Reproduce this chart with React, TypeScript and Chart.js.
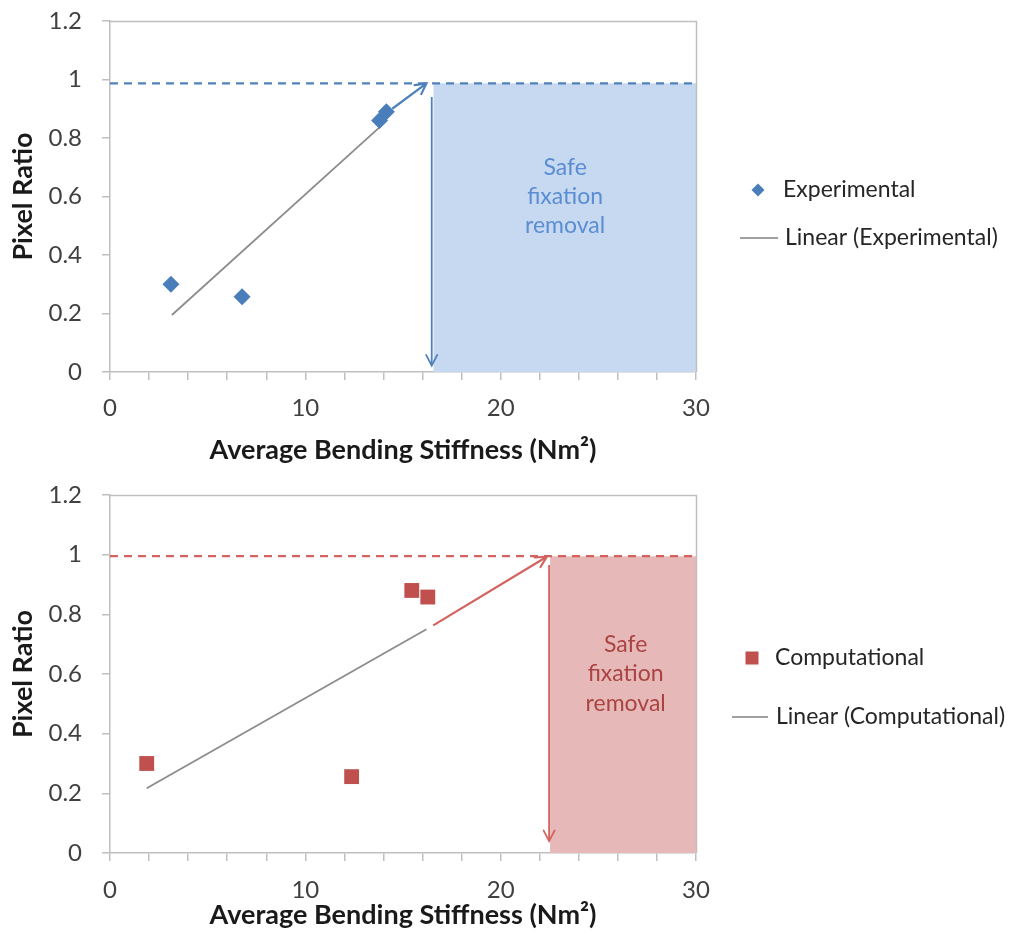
import React, { useEffect, useRef } from "react";
import { Chart, registerables } from "chart.js";
Chart.register(...registerables);

// ---------- Shared axis data ----------
const xTickStep = 2;
const xLabelEvery = 10;
const xMin = 0;
const xMax = 30;
const yMin = 0;
const yMax = 1.2;
const yTickStep = 0.2;
const xTitle = "Average Bending Stiffness (Nm²)";
const yTitle = "Pixel Ratio";
const zoneLines = ["Safe", "fixation", "removal"];
const zoneLineY = [0.7, 0.6, 0.5];

// ---------- Top panel (Experimental) ----------
const expLabel = "Experimental";
const expTrendLabel = "Linear (Experimental)";
const expX = [3.12, 6.76, 13.8, 14.15];
const expY = [0.3, 0.257, 0.86, 0.89];
const expTrendX = [3.17, 13.85];
const expTrendY = [0.195, 0.84];
const expArrowX = [14.45, 16.2];
const expArrowY = [0.9, 0.987];
const expDropX = [16.47, 16.47];
const expDropY = [0.94, 0.022];
const expLimitX = [0, 30];
const expLimitY = [0.987, 0.987];
const expZoneX = [16.55, 30];
const expZoneY = [0.987, 0.987];
const expZoneTextX = 23.3;

// ---------- Bottom panel (Computational) ----------
const compLabel = "Computational";
const compTrendLabel = "Linear (Computational)";
const compX = [1.88, 12.37, 15.45, 16.27];
const compY = [0.3, 0.256, 0.88, 0.858];
const compTrendX = [1.88, 16.2];
const compTrendY = [0.217, 0.75];
const compArrowX = [16.55, 22.36];
const compArrowY = [0.763, 0.993];
const compDropX = [22.48, 22.48];
const compDropY = [0.965, 0.04];
const compLimitX = [0, 30];
const compLimitY = [0.995, 0.995];
const compZoneX = [22.53, 30];
const compZoneY = [0.995, 0.995];
const compZoneTextX = 26.4;

const FONT = "Lato, 'Open Sans', sans-serif";
const AXIS_GRAY = "#BFBFBF";

const zip = (xs: number[], ys: number[]) => xs.map((x, i) => ({ x, y: ys[i] }));

const decorPlugin = {
  id: "decor",
  afterDatasetsDraw(chart: any, _args: any, opts: any) {
    const ctx = chart.ctx;
    chart.data.datasets.forEach((ds: any, i: number) => {
      if (!ds.arrowEnd) return;
      const pts = chart.getDatasetMeta(i).data;
      const a = pts[pts.length - 2];
      const b = pts[pts.length - 1];
      const ang = Math.atan2(b.y - a.y, b.x - a.x);
      const L = 12;
      const spread = Math.PI / 6.5;
      ctx.save();
      ctx.strokeStyle = ds.borderColor;
      ctx.lineWidth = ds.borderWidth;
      ctx.lineCap = "round";
      ctx.beginPath();
      ctx.moveTo(b.x - L * Math.cos(ang - spread), b.y - L * Math.sin(ang - spread));
      ctx.lineTo(b.x, b.y);
      ctx.lineTo(b.x - L * Math.cos(ang + spread), b.y - L * Math.sin(ang + spread));
      ctx.stroke();
      ctx.restore();
    });
    const xs = chart.scales.x;
    const ys = chart.scales.y;
    ctx.save();
    ctx.font = `${opts.textSize}px ${FONT}`;
    ctx.fillStyle = opts.textColor;
    ctx.textAlign = "center";
    ctx.textBaseline = "middle";
    zoneLines.forEach((t, k) => {
      ctx.fillText(t, xs.getPixelForValue(opts.textX), ys.getPixelForValue(zoneLineY[k]));
    });
    ctx.restore();
  },
  afterDraw(chart: any, _args: any, opts: any) {
    const ctx = chart.ctx;
    const { left, right, top, bottom } = chart.chartArea;
    ctx.save();
    ctx.strokeStyle = AXIS_GRAY;
    ctx.lineWidth = 1.5;
    ctx.beginPath();
    ctx.moveTo(left, Math.round(top) + 0.5);
    ctx.lineTo(Math.round(right) + 0.5, Math.round(top) + 0.5);
    ctx.lineTo(Math.round(right) + 0.5, bottom);
    ctx.stroke();

    const lg = opts.legend;
    ctx.font = `${lg.fontSize}px ${FONT}`;
    ctx.textAlign = "left";
    ctx.textBaseline = "middle";
    ctx.fillStyle = lg.markerColor;
    const r = lg.markerSize;
    if (lg.marker === "diamond") {
      ctx.beginPath();
      ctx.moveTo(lg.markerX, lg.row1Y - r);
      ctx.lineTo(lg.markerX + r, lg.row1Y);
      ctx.lineTo(lg.markerX, lg.row1Y + r);
      ctx.lineTo(lg.markerX - r, lg.row1Y);
      ctx.closePath();
      ctx.fill();
    } else {
      ctx.fillRect(lg.markerX - r, lg.row1Y - r, 2 * r, 2 * r);
    }
    ctx.fillStyle = "#262626";
    ctx.fillText(lg.label1, lg.text1X, lg.row1Y);
    ctx.strokeStyle = "#808080";
    ctx.lineWidth = 1.5;
    ctx.beginPath();
    ctx.moveTo(lg.lineX0, lg.row2Y);
    ctx.lineTo(lg.lineX1, lg.row2Y);
    ctx.stroke();
    ctx.fillText(lg.label2, lg.text2X, lg.row2Y);
    ctx.restore();
  },
};

interface Panel {
  height: number;
  padTop: number;
  xAxisHeight: number;
  xTickPad: number;
  xTitlePadBottom: number;
  label: string;
  trendLabel: string;
  px: number[];
  py: number[];
  trendX: number[];
  trendY: number[];
  arrowX: number[];
  arrowY: number[];
  dropX: number[];
  dropY: number[];
  limitX: number[];
  limitY: number[];
  zoneX: number[];
  zoneY: number[];
  zoneTextX: number;
  color: string;
  arrowColor: string;
  zoneColor: string;
  textColor: string;
  pointStyle: string;
  pointRadius: number;
  legend: any;
}

function buildConfig(p: Panel): any {
  return {
    type: "scatter",
    data: {
      datasets: [
        {
          label: p.label,
          type: "scatter",
          data: zip(p.px, p.py),
          pointStyle: p.pointStyle,
          pointRadius: p.pointRadius,
          backgroundColor: p.color,
          borderColor: p.color,
          borderWidth: 0,
          order: 0,
        },
        {
          label: p.trendLabel,
          type: "line",
          data: zip(p.trendX, p.trendY),
          borderColor: "#8C8C8C",
          borderWidth: 1.8,
          pointRadius: 0,
          fill: false,
          order: 1,
        },
        {
          label: "arrow",
          type: "line",
          data: zip(p.arrowX, p.arrowY),
          borderColor: p.arrowColor,
          borderWidth: 2.2,
          pointRadius: 0,
          fill: false,
          arrowEnd: true,
          order: 1,
        },
        {
          label: "drop",
          type: "line",
          data: zip(p.dropX, p.dropY),
          borderColor: p.arrowColor,
          borderWidth: 1.8,
          pointRadius: 0,
          fill: false,
          arrowEnd: true,
          order: 1,
        },
        {
          label: "limit",
          type: "line",
          data: zip(p.limitX, p.limitY),
          borderColor: p.arrowColor,
          borderWidth: 2.2,
          borderDash: [8, 6],
          pointRadius: 0,
          fill: false,
          order: 2,
        },
        {
          label: "zone",
          type: "line",
          data: zip(p.zoneX, p.zoneY),
          borderWidth: 0,
          borderColor: "rgba(0,0,0,0)",
          backgroundColor: p.zoneColor,
          pointRadius: 0,
          fill: "origin",
          order: 10,
        },
      ],
    },
    options: {
      animation: false,
      responsive: false,
      devicePixelRatio: 1,
      layout: { padding: { left: 0, top: p.padTop, right: 315, bottom: 0 } },
      plugins: {
        legend: { display: false },
        tooltip: { enabled: false },
        decor: {
          textX: p.zoneTextX,
          textColor: p.textColor,
          textSize: 23,
          legend: p.legend,
        },
      },
      scales: {
        x: {
          type: "linear",
          min: xMin,
          max: xMax,
          ticks: {
            stepSize: xTickStep,
            autoSkip: false,
            maxRotation: 0,
            padding: p.xTickPad,
            color: "#404040",
            font: { family: FONT, size: 24 },
            callback: (v: number) => (v % xLabelEvery === 0 ? String(v) : ""),
          },
          grid: {
            display: true,
            drawOnChartArea: false,
            drawTicks: true,
            tickLength: 8,
            color: AXIS_GRAY,
            lineWidth: 1.5,
          },
          border: { display: true, color: AXIS_GRAY, width: 1.5 },
          title: {
            display: true,
            text: xTitle,
            color: "#1a1a1a",
            font: { family: FONT, size: 27, weight: "bold" },
            padding: { top: 0, bottom: p.xTitlePadBottom },
          },
          afterFit: (s: any) => {
            s.height = p.xAxisHeight;
          },
        },
        y: {
          type: "linear",
          min: yMin,
          max: yMax,
          ticks: {
            stepSize: yTickStep,
            padding: 20,
            color: "#404040",
            font: { family: FONT, size: 24 },
            callback: (v: number) => String(Math.round(v * 10) / 10),
          },
          grid: {
            display: true,
            drawOnChartArea: false,
            drawTicks: true,
            tickLength: 8,
            color: AXIS_GRAY,
            lineWidth: 1.5,
          },
          border: { display: true, color: AXIS_GRAY, width: 1.5 },
          title: {
            display: true,
            text: yTitle,
            color: "#1a1a1a",
            font: { family: FONT, size: 27, weight: "bold" },
            padding: { top: 7, bottom: 0 },
          },
          afterFit: (s: any) => {
            s.width = 110;
            s.paddingTop = 8;
            s.paddingBottom = 8;
          },
        },
      },
    },
    plugins: [decorPlugin],
  };
}

const topPanel: Panel = {
  height: 470,
  padTop: 21,
  xAxisHeight: 98,
  xTickPad: 14,
  xTitlePadBottom: 4,
  label: expLabel,
  trendLabel: expTrendLabel,
  px: expX,
  py: expY,
  trendX: expTrendX,
  trendY: expTrendY,
  arrowX: expArrowX,
  arrowY: expArrowY,
  dropX: expDropX,
  dropY: expDropY,
  limitX: expLimitX,
  limitY: expLimitY,
  zoneX: expZoneX,
  zoneY: expZoneY,
  zoneTextX: expZoneTextX,
  color: "#4A7EBB",
  arrowColor: "#4F81BD",
  zoneColor: "#C6D9F1",
  textColor: "#5B8DD2",
  pointStyle: "rectRot",
  pointRadius: 8.5,
  legend: {
    marker: "diamond",
    markerColor: "#4A7EBB",
    markerSize: 6.5,
    markerX: 758,
    row1Y: 190,
    text1X: 783,
    label1: expLabel,
    row2Y: 238,
    lineX0: 740,
    lineX1: 778,
    text2X: 785,
    label2: expTrendLabel,
    fontSize: 23,
  },
};

const bottomPanel: Panel = {
  height: 473,
  padTop: 25,
  xAxisHeight: 90,
  xTickPad: 15,
  xTitlePadBottom: 12,
  label: compLabel,
  trendLabel: compTrendLabel,
  px: compX,
  py: compY,
  trendX: compTrendX,
  trendY: compTrendY,
  arrowX: compArrowX,
  arrowY: compArrowY,
  dropX: compDropX,
  dropY: compDropY,
  limitX: compLimitX,
  limitY: compLimitY,
  zoneX: compZoneX,
  zoneY: compZoneY,
  zoneTextX: compZoneTextX,
  color: "#C0504D",
  arrowColor: "#D4625F",
  zoneColor: "#E6B9B8",
  textColor: "#A94442",
  pointStyle: "rect",
  pointRadius: 10.5,
  legend: {
    marker: "square",
    markerColor: "#C0504D",
    markerSize: 6.5,
    markerX: 752,
    row1Y: 188,
    text1X: 775,
    label1: compLabel,
    row2Y: 247,
    lineX0: 732,
    lineX1: 768,
    text2X: 776,
    label2: compTrendLabel,
    fontSize: 23,
  },
};

function PanelChart({ panel, top }: { panel: Panel; top: number }) {
  const ref = useRef<HTMLCanvasElement | null>(null);
  useEffect(() => {
    if (!ref.current) return;
    const chart = new Chart(ref.current, buildConfig(panel));
    return () => chart.destroy();
  }, [panel]);
  return (
    <canvas
      ref={ref}
      width={1011}
      height={panel.height}
      style={{ position: "absolute", left: 0, top, width: 1011, height: panel.height, display: "block" }}
    />
  );
}

export default function App() {
  return (
    <div
      style={{
        position: "absolute",
        left: 0,
        top: 0,
        width: 1011,
        height: 943,
        background: "#ffffff",
        overflow: "hidden",
      }}
    >
      <PanelChart panel={topPanel} top={0} />
      <PanelChart panel={bottomPanel} top={470} />
    </div>
  );
}
